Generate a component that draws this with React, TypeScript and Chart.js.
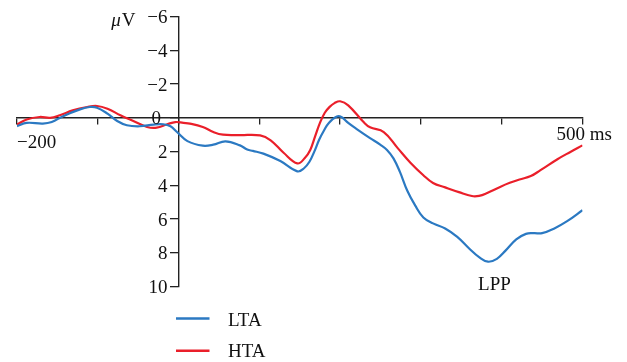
import React, { useEffect, useRef } from "react";
import { Chart, registerables } from "chart.js";

Chart.register(...registerables);

// LTA series (time in ms, amplitude in µV)
const ltaTimes = [-200, -188, -168, -157, -143, -122, -110, -101, -88, -76, -64, -48, -31, -19, -10, -2, 11, 30, 43, 58, 76, 85, 92, 105, 126, 147, 155, 162, 168, 174, 180, 186, 196, 202, 210, 221, 237, 250, 258, 266, 274, 283, 293, 303, 315, 330, 345, 360, 372, 383, 394, 405, 418, 430, 440, 450, 464, 481, 500];
const ltaValues = [0.49, 0.3, 0.34, 0.25, -0.1, -0.5, -0.64, -0.6, -0.25, 0.19, 0.44, 0.5, 0.4, 0.38, 0.5, 0.84, 1.38, 1.65, 1.59, 1.39, 1.63, 1.88, 1.96, 2.12, 2.56, 3.17, 3.0, 2.6, 2.0, 1.3, 0.75, 0.3, -0.08, -0.03, 0.3, 0.68, 1.2, 1.6, 1.9, 2.4, 3.2, 4.3, 5.2, 5.9, 6.25, 6.55, 7.05, 7.75, 8.25, 8.52, 8.35, 7.85, 7.2, 6.87, 6.83, 6.83, 6.58, 6.12, 5.47];

// HTA series
const htaTimes = [-200, -188, -172, -159, -147, -131, -113, -101, -88, -72, -56, -39, -27, -14, -4, 6, 14, 30, 43, 55, 76, 101, 114, 130, 147, 156, 163, 169, 175, 181, 187, 193, 200, 210, 229, 237, 254, 271, 287, 303, 315, 330, 347, 363, 372, 382, 398, 410, 422, 436, 448, 469, 485, 500];
const htaValues = [0.4, 0.1, -0.05, 0, -0.15, -0.44, -0.64, -0.7, -0.54, -0.15, 0.19, 0.54, 0.58, 0.38, 0.25, 0.3, 0.34, 0.54, 0.84, 1.0, 1.02, 1.04, 1.33, 2.07, 2.7, 2.4, 1.9, 1.1, 0.3, -0.3, -0.65, -0.87, -0.98, -0.74, 0.25, 0.56, 0.84, 1.78, 2.66, 3.4, 3.86, 4.12, 4.4, 4.63, 4.62, 4.45, 4.09, 3.85, 3.65, 3.45, 3.1, 2.45, 2.02, 1.63];

const seriesLabels = ["LTA", "HTA"];
const seriesColors = ["#2b79c2", "#ea1f2a"];

const xMin = -200;
const xMax = 500;
const yMin = -6;
const yMax = 10;

const FONT = '"Liberation Serif", "Times New Roman", serif';

const toPoints = (t: number[], v: number[]) => t.map((x, i) => ({ x, y: v[i] }));
const fmtY = (v: number) => (v < 0 ? "\u2212" + Math.abs(v) : String(v));

const textPlugin = {
  id: "extraText",
  afterDraw(chart: any) {
    const { ctx } = chart;
    const x = chart.scales.x;
    const y = chart.scales.y;
    const x0 = x.getPixelForValue(0);
    const y0 = y.getPixelForValue(0);
    ctx.save();
    ctx.fillStyle = "#111";
    ctx.font = `19px ${FONT}`;
    // y tick labels, from the scale's own ticks
    ctx.textAlign = "right";
    ctx.textBaseline = "middle";
    y.ticks.forEach((t: any) => {
      const off = t.value === 0 ? 17.5 : 11;
      ctx.fillText(fmtY(t.value), x0 - off, y.getPixelForValue(t.value) + 1.5);
    });
    ctx.textBaseline = "alphabetic";
    // x tick labels
    ctx.textAlign = "left";
    ctx.fillText("\u2212200", x.getPixelForValue(xMin), y0 + 30);
    ctx.fillText("500 ms", x.getPixelForValue(xMax) - 26, y0 + 22);
    // unit label
    const yTop = y.getPixelForValue(yMin);
    ctx.textAlign = "right";
    const vRight = x0 - 43;
    ctx.fillText("V", vRight, yTop + 9.5);
    const vW = ctx.measureText("V").width;
    ctx.font = `italic 19px ${FONT}`;
    ctx.fillText("\u03bc", vRight - vW - 1, yTop + 9.5);
    // component label
    ctx.font = `19px ${FONT}`;
    ctx.textAlign = "center";
    ctx.fillText("LPP", x.getPixelForValue(391), y.getPixelForValue(10.2));
    // legend
    const ds = chart.data.datasets;
    ds.forEach((d: any, i: number) => {
      const ly = 318.5 + i * 32.2;
      ctx.strokeStyle = d.borderColor;
      ctx.lineWidth = 2.6;
      ctx.beginPath();
      ctx.moveTo(176, ly);
      ctx.lineTo(209.5, ly);
      ctx.stroke();
      ctx.fillStyle = "#111";
      ctx.textAlign = "left";
      ctx.fillText(d.label, 228, 326 + i * 30.7);
    });
    ctx.restore();
  },
};

export default function App() {
  const ref = useRef<HTMLCanvasElement | null>(null);
  useEffect(() => {
    if (!ref.current) return;
    Chart.defaults.font.family = FONT;
    const chart = new Chart(ref.current, {
      type: "line",
      data: {
        datasets: [
          {
            label: seriesLabels[0],
            data: toPoints(ltaTimes, ltaValues),
            borderColor: seriesColors[0],
            borderWidth: 2.2,
            pointRadius: 0,
            tension: 0.4,
            fill: false,
          },
          {
            label: seriesLabels[1],
            data: toPoints(htaTimes, htaValues),
            borderColor: seriesColors[1],
            borderWidth: 2.2,
            pointRadius: 0,
            tension: 0.4,
            fill: false,
          },
        ],
      },
      options: {
        animation: false,
        responsive: false,
        events: [],
        layout: { padding: { left: 17, right: 44.5, top: 16.5, bottom: 75.3 } },
        plugins: { legend: { display: false }, tooltip: { enabled: false } },
        scales: {
          x: {
            type: "linear",
            min: xMin,
            max: xMax,
            position: { y: 0 },
            ticks: { display: false, stepSize: 100 },
            grid: { drawOnChartArea: false, drawTicks: true, tickLength: 6, color: "#222", lineWidth: 1.3 },
            border: { display: true, color: "#222", width: 1.4 },
          },
          y: {
            type: "linear",
            min: yMin,
            max: yMax,
            reverse: true,
            position: { x: 0 },
            ticks: { display: false, stepSize: 2 },
            grid: { drawOnChartArea: false, drawTicks: true, tickLength: 8, color: "#222", lineWidth: 1.3 },
            border: { display: true, color: "#222", width: 1.4 },
          },
        },
      },
      plugins: [textPlugin],
    } as any);
    return () => chart.destroy();
  }, []);
  return (
    <div style={{ position: "absolute", left: 0, top: 0, width: 627, height: 362, background: "#fff" }}>
      <canvas ref={ref} width={627} height={362} style={{ display: "block" }} />
    </div>
  );
}
